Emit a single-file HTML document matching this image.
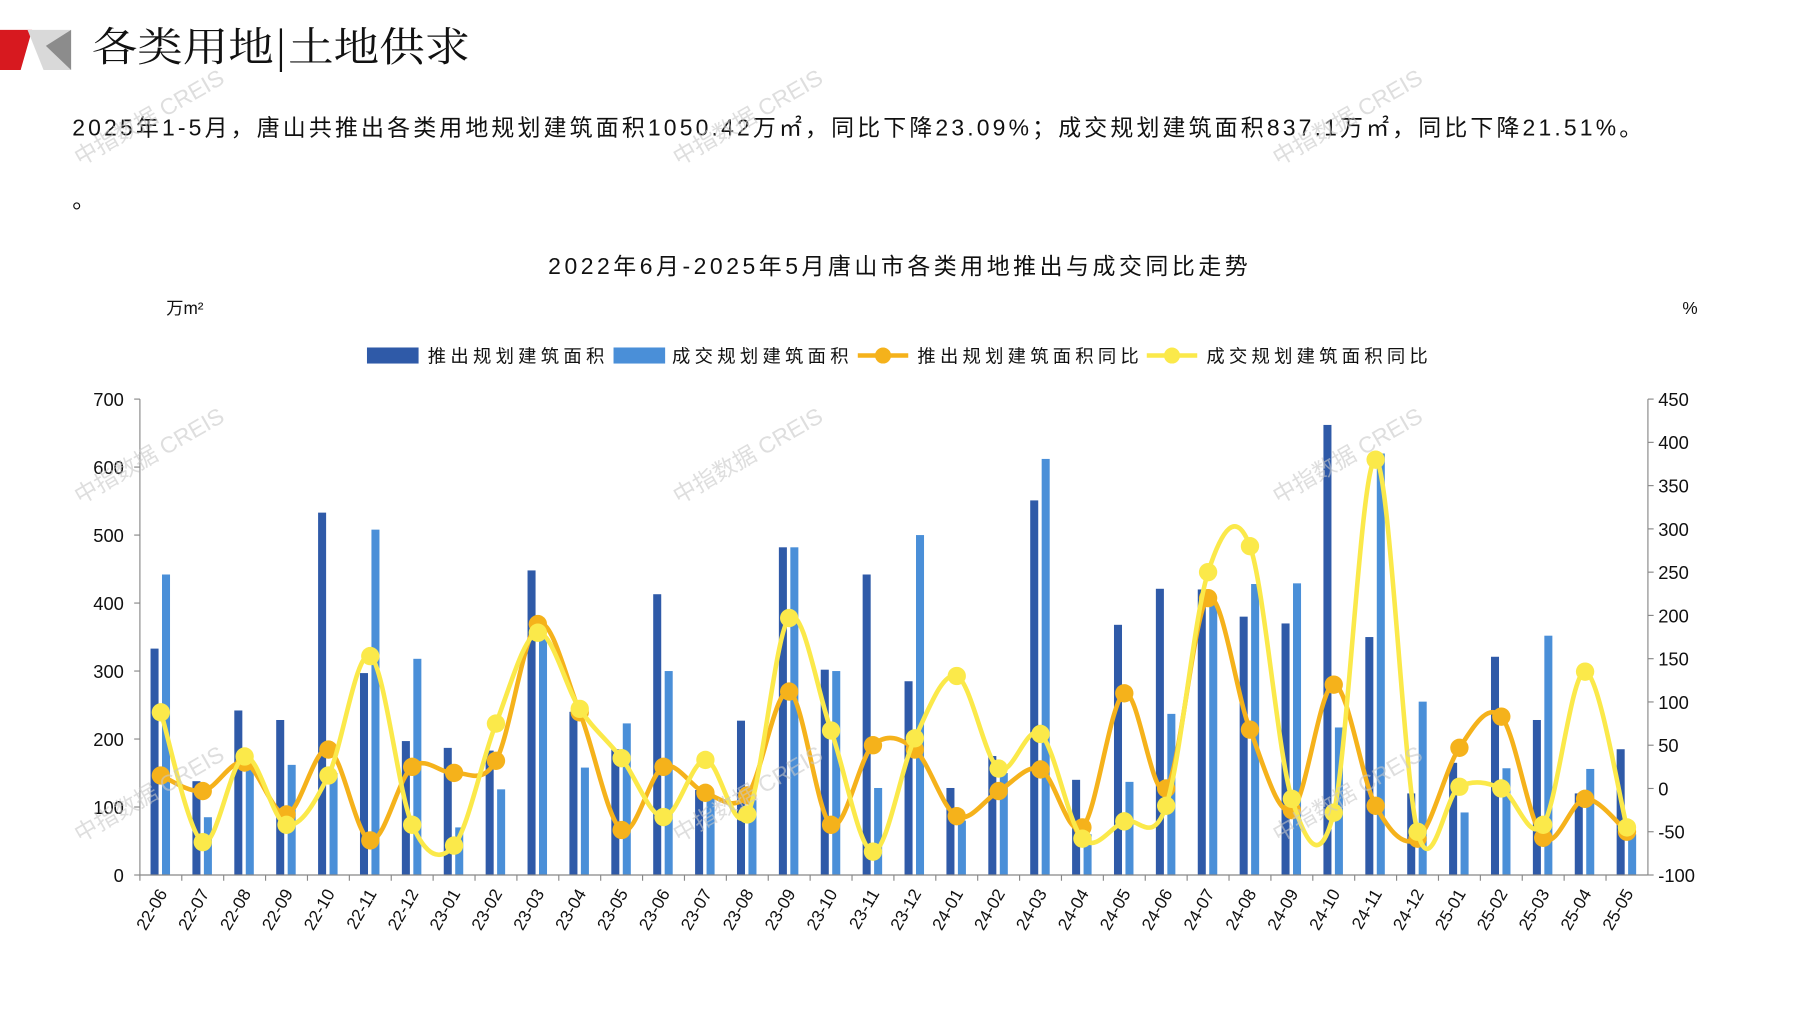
<!DOCTYPE html>
<html><head><meta charset="utf-8"><style>
html,body{margin:0;padding:0;background:#fff;}
svg{display:block;font-family:"Liberation Sans","Noto Sans CJK SC",sans-serif;}
</style></head><body>
<svg id="s" width="1797" height="1010" viewBox="0 0 1567 880.7" xmlns="http://www.w3.org/2000/svg">
<rect width="1567" height="881" fill="#fff"/>
<polygon points="0,26 28,26 18,61 0,61" fill="#d7191f"/>
<polygon points="24,26 62,26 62,61 38,61" fill="#d9d9d9"/>
<polygon points="40,40 62,26 62,61" fill="#8c8c8c"/>
<text x="80" y="53" font-size="35" fill="#111" textLength="330" lengthAdjust="spacingAndGlyphs" font-family="'Noto Serif CJK SC','Noto Sans CJK SC',sans-serif">各类用地|土地供求</text>
<text x="63" y="118" font-size="20" fill="#111" textLength="1369" lengthAdjust="spacing">2025年1-5月，唐山共推出各类用地规划建筑面积1050.42万㎡，同比下降23.09%；成交规划建筑面积837.1万㎡，同比下降21.51%。</text>
<text x="63" y="181" font-size="20" fill="#111">。</text>
<text x="478" y="239" font-size="20" fill="#111" textLength="610" lengthAdjust="spacing">2022年6月-2025年5月唐山市各类用地推出与成交同比走势</text>
<text x="145" y="274" font-size="15" fill="#111">万m²</text>
<text x="1467" y="274" font-size="15" fill="#111">%</text>
<rect x="320" y="303" width="45" height="14" fill="#2f5aa8"/>
<text x="373" y="316" font-size="16" fill="#111" textLength="154" lengthAdjust="spacing">推出规划建筑面积</text>
<rect x="535" y="303" width="45" height="14" fill="#4a8fd8"/>
<text x="586" y="316" font-size="16" fill="#111" textLength="154" lengthAdjust="spacing">成交规划建筑面积</text>
<line x1="748" y1="310" x2="792" y2="310" stroke="#f5b21b" stroke-width="4"/>
<circle cx="770" cy="310" r="7" fill="#f5b21b"/>
<text x="800" y="316" font-size="16" fill="#111" textLength="193" lengthAdjust="spacing">推出规划建筑面积同比</text>
<line x1="1000" y1="310" x2="1044" y2="310" stroke="#fbe94a" stroke-width="4"/>
<circle cx="1022" cy="310" r="7" fill="#fbe94a"/>
<text x="1052" y="316" font-size="16" fill="#111" textLength="193" lengthAdjust="spacing">成交规划建筑面积同比</text>
<g id="chart"></g>
<g id="wm" fill="#c8c8c8" font-size="20" opacity="0.6"></g>
</svg>
<script>
var ns="http://www.w3.org/2000/svg",g=document.getElementById('chart'),wm=document.getElementById('wm');
function el(t,a,p,txt){var e=document.createElementNS(ns,t);for(var k in a)e.setAttribute(k,a[k]);if(txt!=null)e.textContent=txt;(p||g).appendChild(e);return e;}
var L=122,R=1437,T=348,B=763,n=36,cw=(R-L)/n;
var months=[];for(var y=22,m=6;months.length<36;){months.push(y+'-'+(m<10?'0'+m:m));m++;if(m>12){m=1;y++;}}
var d1=[333,138,242,228,533,297,197,187,183,448,240,185,413,125,227,482,302,442,285,128,175,551,140,368,421,420,380,370,662,350,120,165,321,228,120,185];
var d2=[442,85,165,162,150,508,318,70,126,350,158,223,300,120,110,482,300,128,500,80,150,612,60,137,237,400,428,429,217,620,255,92,157,352,156,60];
var o=[15,-3,30,-30,45,-60,25,18,32,190,88,-48,25,-5,-8,112,-42,50,45,-32,-3,22,-45,110,0,220,68,-25,120,-20,-58,47,83,-57,-12,-50];
var yl=[88,-62,37,-42,15,153,-42,-66,75,180,92,35,-33,33,-30,197,67,-73,58,130,23,63,-58,-38,-20,250,280,-12,-28,380,-50,2,0,-42,135,-45];
function yL(v){return B-v*(B-T)/700;}function yR(v){return B-(v+100)*(B-T)/550;}
for(var i=0;i<n;i++){var c=L+cw*(i+.5);
el('rect',{x:c-9,y:yL(d1[i]),width:7,height:B-yL(d1[i]),fill:'#2f5aa8'});
el('rect',{x:c+1,y:yL(d2[i]),width:7,height:B-yL(d2[i]),fill:'#4a8fd8'});
el('text',{x:0,y:0,'font-size':15,fill:'#111','text-anchor':'end',transform:'translate('+(c+6)+','+(B+16)+') rotate(-60)'},null,months[i]);
el('line',{x1:L+cw*i,y1:B,x2:L+cw*i,y2:B+5,stroke:'#888'});}
el('line',{x1:L,y1:T,x2:L,y2:B,stroke:'#888'});el('line',{x1:R,y1:T,x2:R,y2:B,stroke:'#888'});
el('line',{x1:L,y1:B,x2:R,y2:B,stroke:'#888'});
for(var v=0;v<=700;v+=100){el('line',{x1:L-5,y1:yL(v),x2:L,y2:yL(v),stroke:'#888'});el('text',{x:108,y:yL(v)+6,'font-size':16,fill:'#111','text-anchor':'end'},null,v);}
for(var v=-100;v<=450;v+=50){el('line',{x1:R,y1:yR(v),x2:R+5,y2:yR(v),stroke:'#888'});el('text',{x:1446,y:yR(v)+6,'font-size':16,fill:'#111'},null,v);}
function curve(d,col){var p=d.map(function(v,i){return[L+cw*(i+.5),yR(v)];});var s='M'+p[0][0]+','+p[0][1];
for(var i=0;i<p.length-1;i++){var p0=p[i-1]||p[i],p1=p[i],p2=p[i+1],p3=p[i+2]||p2;var t=6;
s+=' C'+(p1[0]+(p2[0]-p0[0])/t)+','+(p1[1]+(p2[1]-p0[1])/t)+' '+(p2[0]-(p3[0]-p1[0])/t)+','+(p2[1]-(p3[1]-p1[1])/t)+' '+p2[0]+','+p2[1];}
el('path',{d:s,fill:'none',stroke:col,'stroke-width':4});p.forEach(function(q){el('circle',{cx:q[0],cy:q[1],r:8,fill:col});});}
curve(o,'#f5b21b');curve(yl,'#fbe94a');
[[70,145],[592,145],[1115,145],[70,440],[592,440],[1115,440],[70,735],[592,735],[1115,735]].forEach(function(p){el('text',{transform:'translate('+p[0]+','+p[1]+') rotate(-30)'},wm,'中指数据 CREIS');});
</script>
</body></html>
